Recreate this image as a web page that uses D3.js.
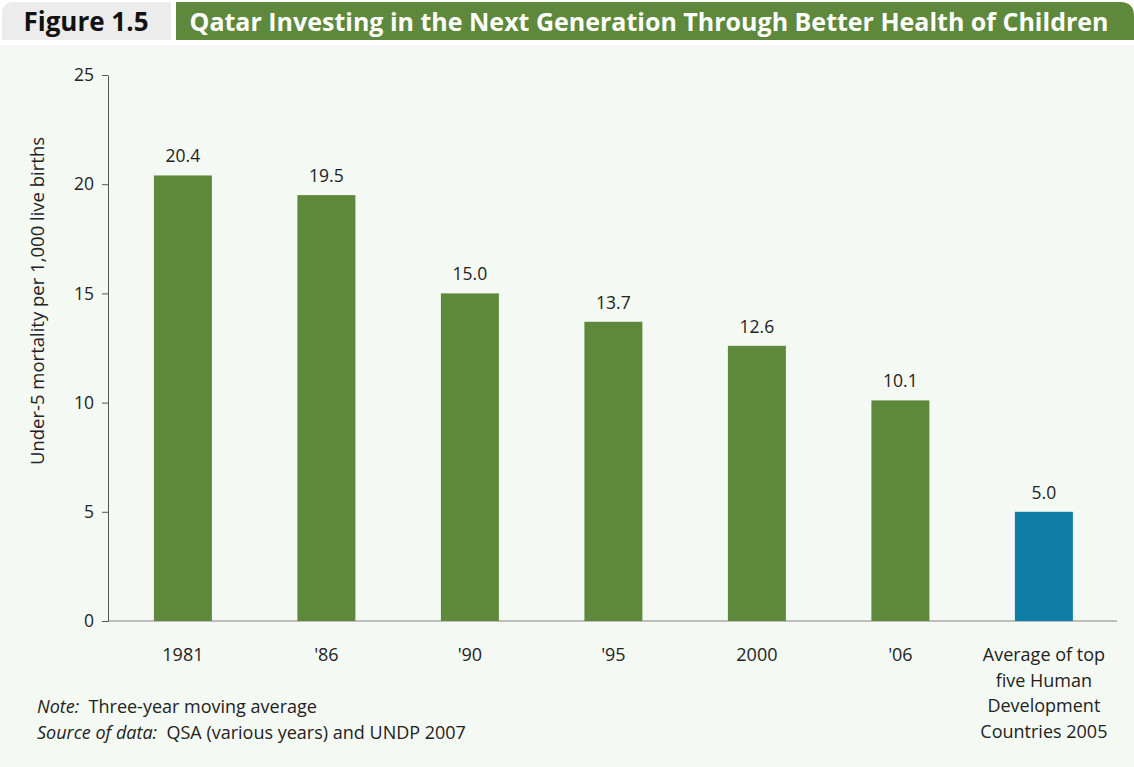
<!DOCTYPE html>
<html>
<head>
<meta charset="utf-8">
<script src="https://cdn.jsdelivr.net/npm/d3@7"></script>
<style>
  body { margin: 0; background: #ffffff; }
  svg { display: block; }
</style>
</head>
<body>
<div id="chart"></div>
<script>
// chart data
var categories = ["1981", "'86", "'90", "'95", "2000", "'06", "avg"];
var values = [20.4, 19.5, 15.0, 13.7, 12.6, 10.1, 5.0];
var categoryLabels = [["1981"], ["'86"], ["'90"], ["'95"], ["2000"], ["'06"],
    ["Average of top", "five Human", "Development", "Countries 2005"]];
var yTicks = [0, 5, 10, 15, 20, 25];
var figureNo = "Figure 1.5";
var title = "Qatar Investing in the Next Generation Through Better Health of Children";
var yLabel = "Under-5 mortality per 1,000 live births";

var w = 1134, h = 767;
var green = "#5e883b";
var blue = "#0e7ea6";
var font = "'Open Sans', 'Noto Sans', sans-serif";
var darkgrey = "#222";

var svg = d3.select("#chart").append("svg").attr("width", w).attr("height", h);

// panel background
svg.append("rect")
    .attr("x", 0).attr("y", 45)
    .attr("width", w).attr("height", h - 45)
    .attr("fill", "#f4f9f3");

// header boxes
svg.append("path")
    .attr("d", "M2,40 V14 Q2,2 14,2 H171 V40 Z")
    .attr("fill", "#ececec");
svg.append("path")
    .attr("d", "M176,2 H1120 Q1134,2 1134,16 V40 H176 Z")
    .attr("fill", green);
svg.append("text")
    .attr("x", 86).attr("y", 31)
    .attr("text-anchor", "middle")
    .attr("font-family", font)
    .attr("font-weight", 700)
    .attr("font-size", "26px")
    .attr("fill", "#111")
    .text(figureNo);
svg.append("text")
    .attr("x", 649).attr("y", 31)
    .attr("text-anchor", "middle")
    .attr("font-family", font)
    .attr("font-weight", 700)
    .attr("font-size", "25px")
    .attr("fill", "white")
    .text(title);

// scales
var x = d3.scaleBand()
    .domain(categories)
    .range([108, 1118.8])
    .paddingInner(0.596)
    .paddingOuter(0.32);
var y = d3.scaleLinear()
    .domain([0, 25])
    .range([621, 75]);

// baseline
svg.append("line")
    .attr("x1", 108).attr("x2", 1117)
    .attr("y1", y(0)).attr("y2", y(0))
    .attr("stroke", "#bdbdbd")
    .attr("stroke-width", 2);

// y axis
var yAxis = svg.append("g")
    .attr("transform", "translate(108,0)")
    .call(d3.axisLeft(y).tickValues(yTicks).tickSize(6).tickSizeOuter(0).tickPadding(8));
yAxis.select(".domain").attr("stroke", "#555");
yAxis.selectAll(".tick line").attr("stroke", "#555");
yAxis.selectAll("text")
    .attr("font-family", font)
    .attr("font-size", "17.5px")
    .attr("fill", darkgrey);

svg.append("text")
    .attr("transform", "translate(44," + 301 + ") rotate(-90)")
    .attr("text-anchor", "middle")
    .attr("font-family", font)
    .attr("font-size", "18.5px")
    .attr("fill", darkgrey)
    .text(yLabel);

// bars
svg.selectAll("rect.bar").data(values).enter().append("rect")
    .attr("class", "bar")
    .attr("x", function(d, i) { return x(categories[i]); })
    .attr("y", function(d) { return y(d); })
    .attr("width", x.bandwidth())
    .attr("height", function(d) { return y(0) - y(d); })
    .attr("fill", function(d, i) { return i == categories.length - 1 ? blue : green; });

// value labels
svg.selectAll("text.val").data(values).enter().append("text")
    .attr("class", "val")
    .attr("x", function(d, i) { return x(categories[i]) + x.bandwidth() / 2; })
    .attr("y", function(d) { return y(d) - 13; })
    .attr("text-anchor", "middle")
    .attr("font-family", font)
    .attr("font-size", "17.5px")
    .attr("fill", darkgrey)
    .text(function(d) { return d3.format(".1f")(d); });

// category labels
categoryLabels.forEach(function(lines, i) {
    var t = svg.append("text")
        .attr("text-anchor", "middle")
        .attr("font-family", font)
        .attr("font-size", "18px")
        .attr("fill", darkgrey);
    lines.forEach(function(s, j) {
        t.append("tspan")
            .attr("x", x(categories[i]) + x.bandwidth() / 2)
            .attr("y", 661 + j * 25.7)
            .text(s);
    });
});

// notes
var note = svg.append("text")
    .attr("x", 37).attr("y", 713)
    .attr("font-family", font)
    .attr("font-size", "18px")
    .attr("fill", darkgrey);
note.append("tspan").attr("font-style", "italic").text("Note:");
note.append("tspan").text("\u00a0 Three-year moving average");
var src = svg.append("text")
    .attr("x", 37).attr("y", 739)
    .attr("font-family", font)
    .attr("font-size", "18px")
    .attr("fill", darkgrey);
src.append("tspan").attr("font-style", "italic").text("Source of data:");
src.append("tspan").text("\u00a0 QSA (various years) and UNDP 2007");
</script>
</body>
</html>
